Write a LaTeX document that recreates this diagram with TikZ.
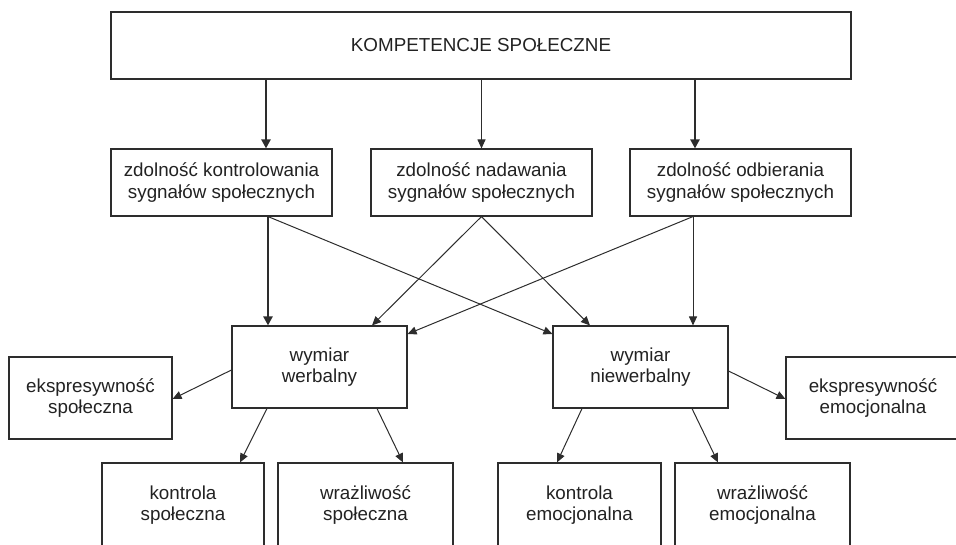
\documentclass[tikz,border=0pt]{standalone}
\usepackage{fontspec}
\setmainfont{Liberation Sans}
\usetikzlibrary{arrows.meta,positioning}
\definecolor{diagink}{RGB}{34,34,34}
\definecolor{diagline}{RGB}{45,45,45}
\tikzset{
    panel/.style={
        draw=diagline,line width=1.1pt,fill=white,
        align=center,text=diagink,
        font=\fontsize{18.8}{21.5}\selectfont,
        inner sep=0pt,minimum height=#1
    },
    panel/.default=67pt,
    link/.style={
        -{Triangle[length=9pt,width=8pt]},line width=1pt,draw=diagline
    },
    mainlink/.style={
        -{Triangle[length=9pt,width=9pt]},line width=2.2pt,draw=diagline
    }
}
\begin{document}
\begin{tikzpicture}[x=1pt,y=-1pt]
\useasboundingbox (0,0) rectangle (956,544);
\clip (0,0) rectangle (956,544);

% top level
\node[panel,minimum width=740pt] (komp) at (481,45.5) {KOMPETENCJE SPOŁECZNE};

% abilities
\node[panel,minimum width=221pt] (ctrl) at (221.5,182.5) {zdolność kontrolowania\\sygnałów społecznych};
\node[panel,minimum width=221pt] (nad) at (481.5,182.5) {zdolność nadawania\\sygnałów społecznych};
\node[panel,minimum width=221pt] (odb) at (740.5,182.5) {zdolność odbierania\\sygnałów społecznych};

% dimensions
\node[panel=82pt,minimum width=175pt] (werb) at (319.5,367) {wymiar\\werbalny};
\node[panel=82pt,minimum width=175pt] (niew) at (640.5,367) {wymiar\\niewerbalny};

% side boxes
\node[panel=82pt,minimum width=163pt] (eksSp) at (90.5,398) {ekspresywność\\społeczna};
\node[panel=82pt,minimum width=174pt] (eksEm) at (873,398) {ekspresywność\\emocjonalna};

% bottom row
\node[panel=84pt,minimum width=162pt] (kontSp) at (183,505) {kontrola\\społeczna};
\node[panel=84pt,minimum width=175pt] (wrazSp) at (365.5,505) {wrażliwość\\społeczna};
\node[panel=84pt,minimum width=163pt] (kontEm) at (579.5,505) {kontrola\\emocjonalna};
\node[panel=84pt,minimum width=175pt] (wrazEm) at (762.5,505) {wrażliwość\\emocjonalna};

% top -> abilities
\draw[mainlink] ([xshift=44.5pt]ctrl.north |- komp.south) -- ([xshift=44.5pt]ctrl.north);
\draw[link] (komp.south -| nad.north) -- (nad.north);
\draw[mainlink] ([xshift=-45.5pt]odb.north |- komp.south) -- ([xshift=-45.5pt]odb.north);

% abilities -> dimensions
\draw[mainlink] ([xshift=46.5pt]ctrl.south) -- ([xshift=46.5pt]ctrl.south |- werb.north);
\draw[link] ([xshift=46.5pt]ctrl.south) -- ([yshift=33pt]niew.west);
\draw[link] (nad.south) -- ([xshift=52.5pt]werb.north);
\draw[link] (nad.south) -- ([xshift=-50.5pt]niew.north);
\draw[link] ([xshift=-47.5pt]odb.south) -- ([yshift=33pt]werb.east);
\draw[link] ([xshift=-47.5pt]odb.south) -- ([xshift=-47.5pt]odb.south |- niew.north);

% dimensions -> components
\draw[link] ([yshift=-3pt]werb.west) -- ([yshift=-1pt]eksSp.east);
\draw[link] ([xshift=-52.5pt]werb.south) -- ([xshift=57pt]kontSp.north);
\draw[link] ([xshift=57.5pt]werb.south) -- ([xshift=37.5pt]wrazSp.north);
\draw[link] ([yshift=-4pt]niew.east) -- ([yshift=-1pt]eksEm.west);
\draw[link] ([xshift=-58.5pt]niew.south) -- ([xshift=-22.5pt]kontEm.north);
\draw[link] ([xshift=51.5pt]niew.south) -- ([xshift=-44.5pt]wrazEm.north);

\end{tikzpicture}
\end{document}
